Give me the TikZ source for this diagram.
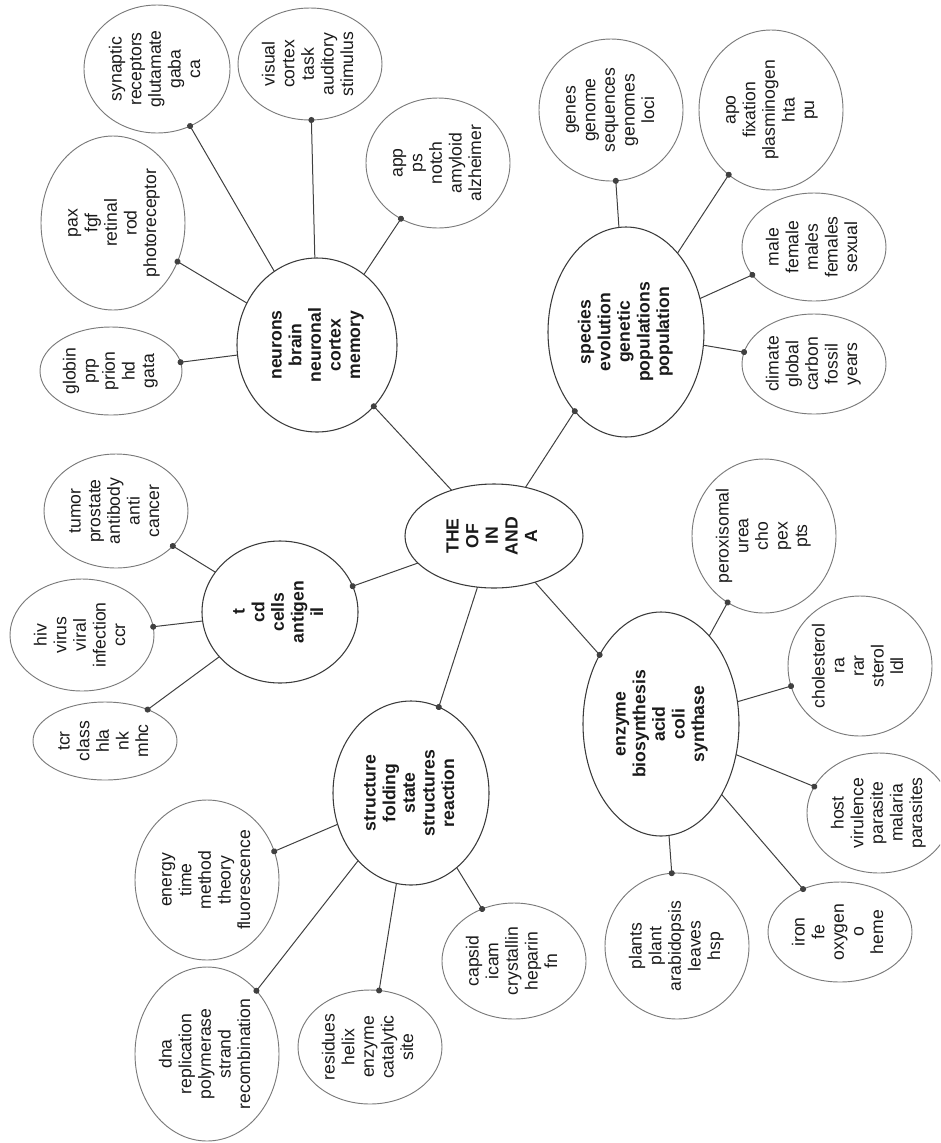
\documentclass[tikz,border=0pt]{standalone}
\usepackage{fontspec}
\setmainfont{Liberation Sans}
\usepackage{graphicx}
\usetikzlibrary{shapes.geometric,arrows.meta}
\definecolor{leafgray}{HTML}{7A7A7A}
\definecolor{topicgray}{HTML}{3A3A3A}
\definecolor{linegray}{HTML}{404040}
\definecolor{textgray}{HTML}{1A1A1A}
\newcommand{\vtext}[1]{\smash{\makebox[0pt]{\raisebox{-.5\height}{\rotatebox{90}{\begin{tabular}{@{}c@{}}#1\end{tabular}}}}}}
\tikzset{
  bubble/.style 2 args={ellipse, inner sep=0pt, outer sep=0pt,
    minimum width={2*#1*0.75pt}, minimum height={2*#2*0.75pt},
    text=textgray, font=\fontsize{13.2pt}{14.7pt}\selectfont},
  leaf/.style 2 args={bubble={#1}{#2}, draw=leafgray, line width=0.7pt},
  topic/.style 2 args={bubble={#1}{#2}, draw=topicgray, line width=0.8pt,
    font=\fontsize{13.2pt}{14.7pt}\selectfont\bfseries},
  conn/.style={draw=linegray, line width=0.75pt, -{Circle[length=4.5pt]}, shorten >=-2.25pt}
}
\begin{document}
\begin{tikzpicture}[x=0.75pt,y=-0.75pt]
\useasboundingbox (0,0) rectangle (940,1143);
\clip (0,0) rectangle (940,1143);
% center
\node[topic={89}{52}] (c) at (494,536) {\vtext{THE\\OF\\IN\\AND\\A}};
% topics
\node[topic={80}{87}] (neu) at (317,345) {\vtext{neurons\\brain\\neuronal\\cortex\\memory}};
\node[topic={78}{105}] (spe) at (626,332) {\vtext{species\\evolution\\genetic\\populations\\population}};
\node[topic={78}{71}] (tce) at (280,612) {\vtext{t\\cd\\cells\\antigen\\il}};
\node[topic={78}{92}] (str) at (411,793) {\vtext{structure\\folding\\state\\structures\\reaction}};
\node[topic={78}{112}] (enz) at (661,724) {\vtext{enzyme\\biosynthesis\\acid\\coli\\synthase}};
% neurons leaves
\node[leaf={71}{44}] (glo) at (111,371) {\vtext{globin\\prp\\prion\\hd\\gata}};
\node[leaf={72}{87}] (pax) at (113,223) {\vtext{pax\\fgf\\retinal\\rod\\photoreceptor}};
\node[leaf={73}{64}] (syn) at (157,69) {\vtext{synaptic\\receptors\\glutamate\\gaba\\ca}};
\node[leaf={72}{56}] (vis) at (310,64) {\vtext{visual\\cortex\\task\\auditory\\stimulus}};
\node[leaf={72}{65}] (app) at (438,163) {\vtext{app\\ps\\notch\\amyloid\\alzheimer}};
% species leaves
\node[leaf={72}{71}] (gen) at (611,110) {\vtext{genes\\genome\\sequences\\genomes\\loci}};
\node[leaf={72}{80}] (apo) at (771,110) {\vtext{apo\\fixation\\plasminogen\\hta\\pu}};
\node[leaf={72}{54}] (mal) at (814,247) {\vtext{male\\female\\males\\females\\sexual}};
\node[leaf={72}{50}] (cli) at (814,364) {\vtext{climate\\global\\carbon\\fossil\\years}};
% t cells leaves
\node[leaf={72}{57}] (tum) at (116,511) {\vtext{tumor\\prostate\\antibody\\anti\\cancer}};
\node[leaf={72}{56}] (hiv) at (82,635) {\vtext{hiv\\virus\\viral\\infection\\ccr}};
\node[leaf={72}{39}] (tcr) at (105,741) {\vtext{tcr\\class\\hla\\nk\\mhc}};
% structure leaves
\node[leaf={72}{80}] (ene) at (207,880) {\vtext{energy\\time\\method\\theory\\fluorescence}};
\node[leaf={72}{87}] (dna) at (207,1054) {\vtext{dna\\replication\\polymerase\\strand\\recombination}};
\node[leaf={72}{57}] (res) at (370,1047) {\vtext{residues\\helix\\enzyme\\catalytic\\site}};
\node[leaf={72}{58}] (cap) at (514,961) {\vtext{capsid\\icam\\crystallin\\heparin\\fn}};
% enzyme leaves
\node[leaf={72}{77}] (per) at (764,536) {\vtext{peroxisomal\\urea\\cho\\pex\\pts}};
\node[leaf={72}{70}] (cho) at (860,666) {\vtext{cholesterol\\ra\\rar\\sterol\\ldl}};
\node[leaf={72}{60}] (hos) at (879,813) {\vtext{host\\virulence\\parasite\\malaria\\parasites}};
\node[leaf={72}{50}] (iro) at (840,932) {\vtext{iron\\fe\\oxygen\\o\\heme}};
\node[leaf={72}{73}] (pla) at (677,946) {\vtext{plants\\plant\\arabidopsis\\leaves\\hsp}};
% connectors
\draw[conn] (c) -- (neu);
\draw[conn] (c) -- (spe);
\draw[conn] (c) -- (tce);
\draw[conn] (c) -- (str);
\draw[conn] (c) -- (enz);
\foreach \t in {glo,pax,syn,vis,app} \draw[conn] (neu) -- (\t);
\foreach \t in {gen,apo,mal,cli} \draw[conn] (spe) -- (\t);
\foreach \t in {tum,hiv,tcr} \draw[conn] (tce) -- (\t);
\foreach \t in {ene,dna,res,cap} \draw[conn] (str) -- (\t);
\foreach \t in {per,cho,hos,iro,pla} \draw[conn] (enz) -- (\t);
\end{tikzpicture}
\end{document}
